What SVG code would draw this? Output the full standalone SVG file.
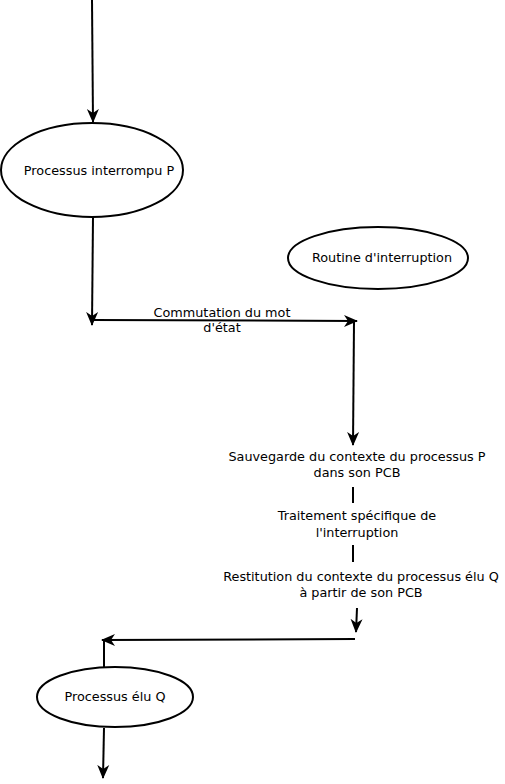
<svg xmlns="http://www.w3.org/2000/svg" width="505" height="784" viewBox="0 0 505 784">
<style>
.n ellipse{fill:#fff;stroke:#000;stroke-width:2}
text{font-family:"DejaVu Sans",sans-serif;font-size:12.8px;fill:#000;text-anchor:middle}
.c path{fill:none;stroke:#000;stroke-width:2}
</style>
<defs>
<marker id="a" viewBox="0 0 14 14" refX="13" refY="7" markerWidth="14" markerHeight="14" markerUnits="userSpaceOnUse" orient="auto">
<path d="M0,1 L14,7 L0,13 L4,7 z" fill="#000"/>
</marker>
</defs>
<rect width="505" height="784" fill="#fff"/>
<g class="c">
<path d="M92,0 L93,122" marker-end="url(#a)"/>
<path d="M93,217 L92,325" marker-end="url(#a)"/>
<path d="M92,320 L357,321" marker-end="url(#a)"/>
<path d="M354,322 L353,445" marker-end="url(#a)"/>
<path d="M353,487 L353,503"/>
<path d="M353,545 L353,562"/>
<path d="M357,608 L356,632" marker-end="url(#a)"/>
<path d="M355,639 L102,640" marker-end="url(#a)"/>
<path d="M104,640 L104,667"/>
<path d="M104,728 L103,778" marker-end="url(#a)"/>
</g>
<text x="222" y="317">Commutation du mot</text>
<text x="222" y="332">d'état</text>
<g id="p" class="n">
<ellipse cx="92" cy="170" rx="91" ry="47"/>
<text x="99" y="175">Processus interrompu P</text>
</g>
<g id="r" class="n">
<ellipse cx="378" cy="258" rx="90" ry="31"/>
<text x="382" y="262">Routine d'interruption</text>
</g>
<g id="s">
<text x="357" y="461">Sauvegarde du contexte du processus P</text>
<text x="357" y="477">dans son PCB</text>
</g>
<g id="t">
<text x="357" y="520">Traitement spécifique de</text>
<text x="357" y="537">l'interruption</text>
</g>
<g id="u">
<text x="361" y="581">Restitution du contexte du processus élu Q</text>
<text x="361" y="597">à partir de son PCB</text>
</g>
<g id="q" class="n">
<ellipse cx="115" cy="697" rx="78" ry="30"/>
<text x="115" y="701">Processus élu Q</text>
</g>
</svg>
